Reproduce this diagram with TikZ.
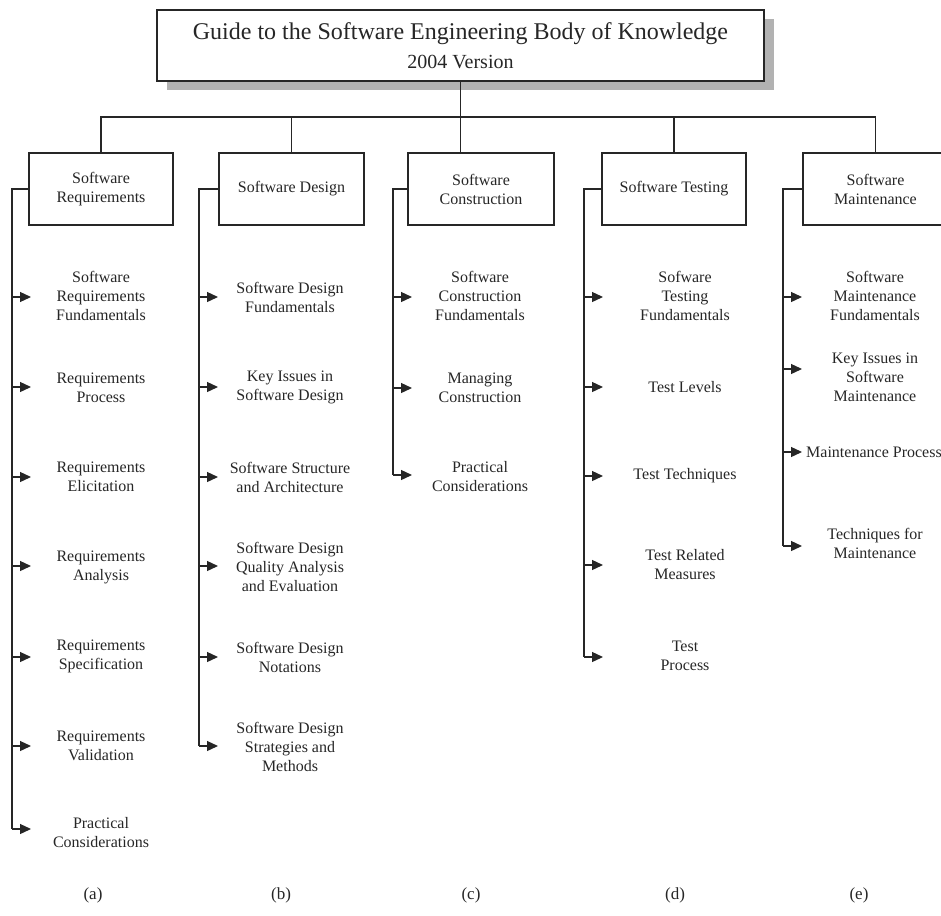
\documentclass[tikz,border=0pt]{standalone}
\usepackage{fontspec}
\setmainfont{Liberation Serif}
\usetikzlibrary{arrows.meta,shadows}
\begin{document}
\begin{tikzpicture}[x=1pt,y=-1pt,
  line/.style={line width=1.3pt, draw=black!85},
  arr/.style={line, -{Triangle[length=11pt,width=10pt]}},
  hbox/.style={draw=black!85, line width=1.6pt, fill=white, minimum width=145pt,
    minimum height=72pt, align=center, inner sep=0pt,
    font=\fontsize{16}{19}\selectfont, text=black!85},
  item/.style={align=center, inner sep=0pt, font=\fontsize{16}{19}\selectfont, text=black!85},
  tag/.style={inner sep=0pt, font=\fontsize{17}{20}\selectfont, text=black!85}]
\useasboundingbox (0,0) rectangle (941,915);

% title box with its drop shadow
\node[draw=black!85, line width=1.6pt, fill=white, minimum width=607pt, minimum height=71pt,
  inner sep=0pt, align=center, text=black!85,
  font=\fontsize{24}{29}\selectfont,
  drop shadow={shadow xshift=10pt, shadow yshift=-9pt, fill=black!30, opacity=1}]
  (T) at (460.5,45.5) {Guide to the Software Engineering Body of Knowledge\\{\fontsize{20}{29}\selectfont 2004 Version}};

% knowledge area boxes
\node[hbox, minimum width=144pt] (A) at (101,189) {Software\\Requirements};
\node[hbox] (B) at (291.5,189) {Software Design};
\node[hbox, minimum width=146pt] (C) at (481,189) {Software\\Construction};
\node[hbox, minimum width=144pt] (D) at (674,189) {Software Testing};
\node[hbox] (E) at (875.5,189) {Software\\Maintenance};

% tree connectors from the title
\coordinate (bar) at (461,117);
\draw[line] (T.south) -- (T.south |- C.north);
\draw[line] (A.north) -- (A.north |- bar) -- (E.north |- bar) -- (E.north);
\draw[line] (B.north) -- (B.north |- bar);
\draw[line] (D.north) -- (D.north |- bar);

% rails
\coordinate (ra) at (12,0);
\coordinate (rb) at (199,0);
\coordinate (rc) at (393,0);
\coordinate (rd) at (584,0);
\coordinate (re) at (783,0);

% arrow tips
\foreach \k/\y in {1/297,2/387,3/477,4/566,5/657,6/746,7/829}
  \coordinate (a\k) at (31,\y);
\foreach \k/\y in {1/297,2/387,3/477,4/566,5/657,6/746}
  \coordinate (b\k) at (218,\y);
\foreach \k/\y in {1/297,2/388,3/475}
  \coordinate (c\k) at (412,\y);
\foreach \k/\y in {1/297,2/387,3/476,4/565,5/657}
  \coordinate (d\k) at (603,\y);
\foreach \k/\y in {1/297,2/369,3/452,4/546}
  \coordinate (e\k) at (802,\y);

\draw[line] (A.west) -- (A.west -| ra) -- (ra |- a7);
\draw[line] (B.west) -- (B.west -| rb) -- (rb |- b6);
\draw[line] (C.west) -- (C.west -| rc) -- (rc |- c3);
\draw[line] (D.west) -- (D.west -| rd) -- (rd |- d5);
\draw[line] (E.west) -- (E.west -| re) -- (re |- e4);

\foreach \k in {1,...,7} \draw[arr] (ra |- a\k) -- (a\k);
\foreach \k in {1,...,6} \draw[arr] (rb |- b\k) -- (b\k);
\foreach \k in {1,...,3} \draw[arr] (rc |- c\k) -- (c\k);
\foreach \k in {1,...,5} \draw[arr] (rd |- d\k) -- (d\k);
\foreach \k in {1,...,4} \draw[arr] (re |- e\k) -- (e\k);

% (a) Software Requirements
\node[item] (ta1) at (101,296) {Software\\Requirements\\Fundamentals};
\node[item] (ta2) at (101,388) {Requirements\\Process};
\node[item] (ta3) at (101,477) {Requirements\\Elicitation};
\node[item] (ta4) at (101,567) {Requirements\\Analysis};
\node[item] (ta5) at (101,656) {Requirements\\Specification};
\node[item] (ta6) at (101,746) {Requirements\\Validation};
\node[item] (ta7) at (101,833) {Practical\\Considerations};

% (b) Software Design
\node[item] (tb1) at (290,297) {Software Design\\Fundamentals};
\node[item] (tb2) at (290,387) {Key Issues in\\Software Design};
\node[item] (tb3) at (290,477) {Software Structure\\and Architecture};
\node[item] (tb4) at (290,567) {Software Design\\Quality Analysis\\and Evaluation};
\node[item] (tb5) at (290,657) {Software Design\\Notations};
\node[item] (tb6) at (290,747) {Software Design\\Strategies and\\Methods};

% (c) Software Construction
\node[item] (tc1) at (480,296) {Software\\Construction\\Fundamentals};
\node[item] (tc2) at (480,388) {Managing\\Construction};
\node[item] (tc3) at (480,477) {Practical\\Considerations};

% (d) Software Testing
\node[item] (td1) at (685,296) {Sofware\\Testing\\Fundamentals};
\node[item] (td2) at (685,387) {Test Levels};
\node[item] (td3) at (685,476) {Test Techniques};
\node[item] (td4) at (685,565) {Test Related\\Measures};
\node[item] (td5) at (685,656) {Test\\Process};

% (e) Software Maintenance
\node[item] (te1) at (875,296) {Software\\Maintenance\\Fundamentals};
\node[item] (te2) at (875,377) {Key Issues in\\Software\\Maintenance};
\node[item, anchor=west] (te3) at (806,452) {Maintenance Process};
\node[item] (te4) at (875,543) {Techniques for\\Maintenance};

% column captions
\node[tag] (la) at (93,895) {(a)};
\node[tag] (lb) at (281,895) {(b)};
\node[tag] (lc) at (471,895) {(c)};
\node[tag] (ld) at (675,895) {(d)};
\node[tag] (le) at (859,895) {(e)};
\end{tikzpicture}
\end{document}
